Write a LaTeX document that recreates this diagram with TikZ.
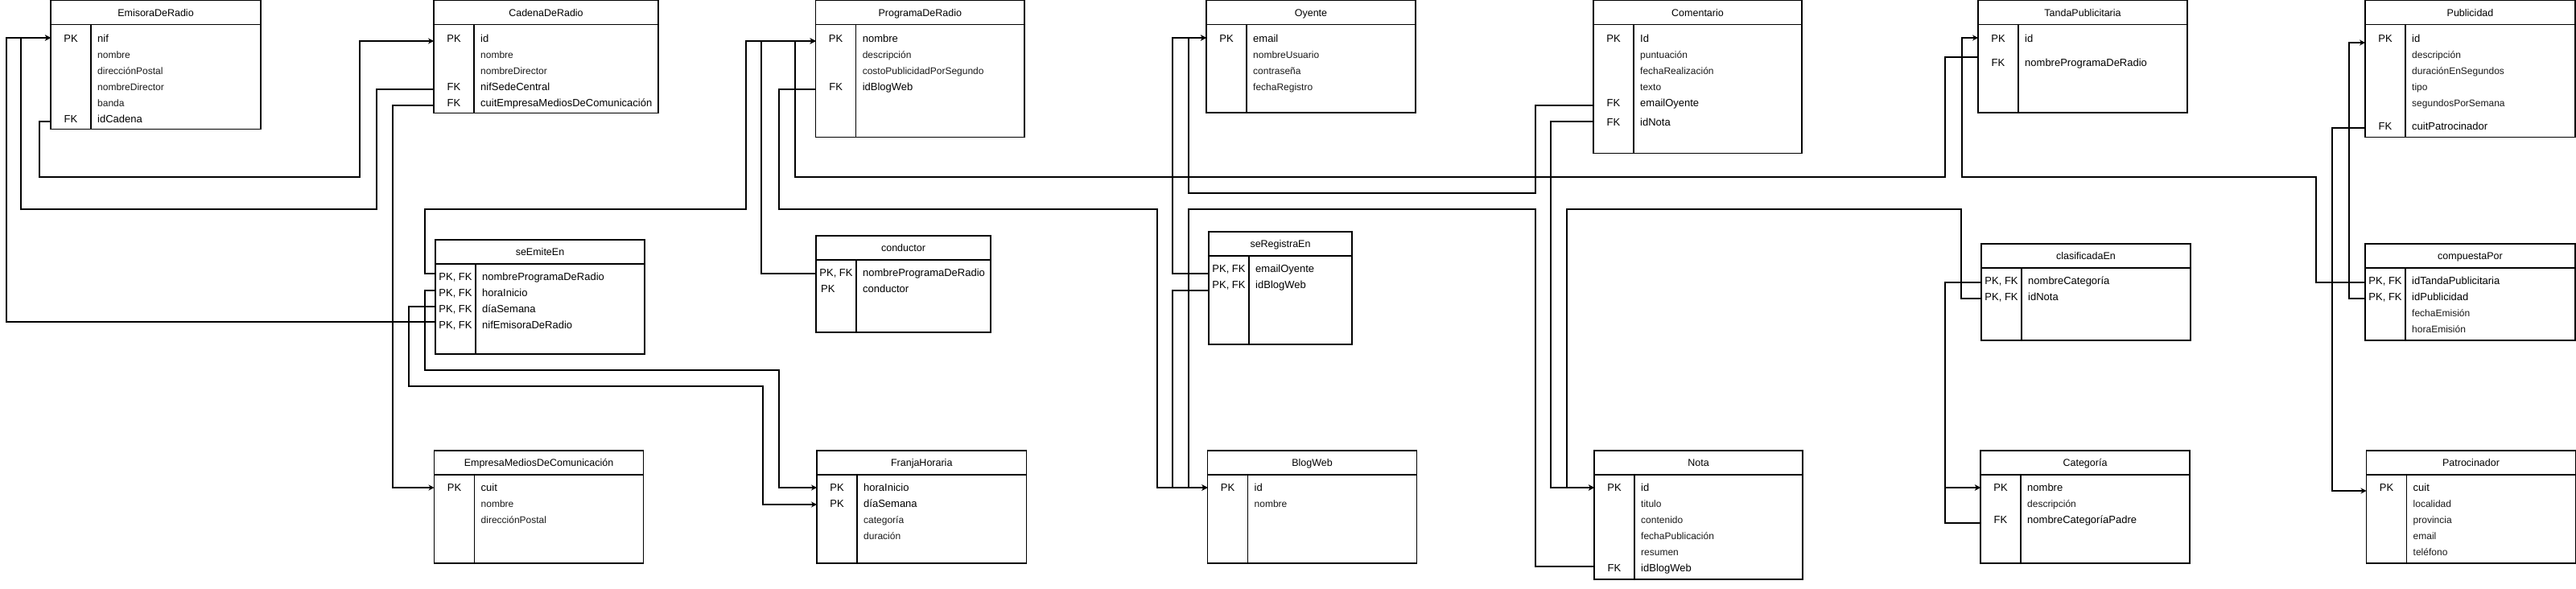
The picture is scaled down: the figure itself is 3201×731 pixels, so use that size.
\documentclass[tikz,border=0pt]{standalone}
\usepackage{fontspec}
\setmainfont{Liberation Sans}
\usepackage{tikz}
\usetikzlibrary{arrows.meta}
\tikzstyle{tbl}=[rectangle,draw=black,line width=1.1pt,inner sep=0pt,outer sep=0pt]
\tikzstyle{tblline}=[line width=1.1pt]
\tikzstyle{ttl}=[font=\fontsize{12.5}{14}\selectfont,inner sep=0pt,text height=9pt,text depth=0pt]
\tikzstyle{keylbl}=[font=\fontsize{13}{15}\selectfont,inner sep=0pt,text height=9pt,text depth=0pt]
\tikzstyle{keyfld}=[keylbl,anchor=west]
\tikzstyle{attfld}=[font=\fontsize{12}{14}\selectfont,text=black!90,inner sep=0pt,
  text height=8.6pt,text depth=0pt,anchor=west]
\tikzstyle{fk}=[line width=1.1pt]
\tikzstyle{ref}=[fk,-{Stealth[length=7pt,width=7pt]}]
% table: name, x, y, width, height, title
\newcommand{\ertable}[6]{%
  \node[tbl,minimum width=#4pt,minimum height=#5pt,anchor=north west] (#1) at (#2,#3) {};
  \draw[tblline] ([yshift=-30pt]#1.north west) -- ([yshift=-30pt]#1.north east);
  \draw[tblline] ([xshift=50pt,yshift=-30pt]#1.north west) -- ([xshift=50pt]#1.south west);
  \node[ttl] (#1-t) at ([yshift=-15pt]#1.north) {#6};
}
% key row: table, name, offset, key, text
\newcommand{\kfield}[5]{%
  \node[keylbl] (#1-#2k) at ([xshift=25pt,yshift=-#3pt]#1.north west) {#4};
  \node[keyfld] (#1-#2) at ([xshift=58pt,yshift=-#3pt]#1.north west) {#5};
}
% plain row: table, name, offset, text
\newcommand{\afield}[4]{%
  \node[attfld] (#1-#2) at ([xshift=58pt,yshift=-#3pt]#1.north west) {#4};
}
\begin{document}
\begin{tikzpicture}[x=1pt,y=-1pt]
    \useasboundingbox (0,0) rectangle (3201,731);
    % top row
    \ertable{emi}{63}{0.7}{261}{160}{EmisoraDeRadio}
    \kfield{emi}{nif}{47}{PK}{nif}
    \afield{emi}{nom}{67}{nombre}
    \afield{emi}{dir}{87}{direcciónPostal}
    \afield{emi}{ndi}{107}{nombreDirector}
    \afield{emi}{ban}{127}{banda}
    \kfield{emi}{idc}{147}{FK}{idCadena}
    \ertable{cad}{539}{0.7}{279}{140}{CadenaDeRadio}
    \kfield{cad}{id}{47}{PK}{id}
    \afield{cad}{nom}{67}{nombre}
    \afield{cad}{ndi}{87}{nombreDirector}
    \kfield{cad}{nif}{107}{FK}{nifSedeCentral}
    \kfield{cad}{cuit}{127}{FK}{cuitEmpresaMediosDeComunicación}
    \ertable{prog}{1013.6}{0.7}{259.4}{170}{ProgramaDeRadio}
    \kfield{prog}{nom}{47}{PK}{nombre}
    \afield{prog}{des}{67}{descripción}
    \afield{prog}{cos}{87}{costoPublicidadPorSegundo}
    \kfield{prog}{blog}{107}{FK}{idBlogWeb}
    \ertable{oye}{1499}{0.7}{260}{139.3}{Oyente}
    \kfield{oye}{mail}{47}{PK}{email}
    \afield{oye}{usr}{67}{nombreUsuario}
    \afield{oye}{pwd}{87}{contraseña}
    \afield{oye}{reg}{107}{fechaRegistro}
    \ertable{com}{1980}{0.7}{259}{190}{Comentario}
    \kfield{com}{id}{47}{PK}{Id}
    \afield{com}{pun}{67}{puntuación}
    \afield{com}{fec}{87}{fechaRealización}
    \afield{com}{txt}{107}{texto}
    \kfield{com}{mail}{127}{FK}{emailOyente}
    \kfield{com}{nota}{151}{FK}{idNota}
    \ertable{tan}{2458}{0.7}{260}{139.3}{TandaPublicitaria}
    \kfield{tan}{id}{47}{PK}{id}
    \kfield{tan}{prog}{77}{FK}{nombreProgramaDeRadio}
    \ertable{pub}{2939}{0.7}{261}{170}{Publicidad}
    \kfield{pub}{id}{47}{PK}{id}
    \afield{pub}{des}{67}{descripción}
    \afield{pub}{dur}{87}{duraciónEnSegundos}
    \afield{pub}{tip}{107}{tipo}
    \afield{pub}{seg}{127}{segundosPorSemana}
    \kfield{pub}{cuit}{156}{FK}{cuitPatrocinador}
    % middle row
    \ertable{see}{541}{298}{260}{142}{seEmiteEn}
    \kfield{see}{prog}{46}{PK, FK}{nombreProgramaDeRadio}
    \kfield{see}{hora}{66}{PK, FK}{horaInicio}
    \kfield{see}{dia}{86}{PK, FK}{díaSemana}
    \kfield{see}{nif}{106}{PK, FK}{nifEmisoraDeRadio}
    \ertable{con}{1014}{293}{217}{120}{conductor}
    \kfield{con}{prog}{46}{PK, FK}{nombreProgramaDeRadio}
    \node[keyfld] (con-condk) at ([xshift=6pt,yshift=-66pt]con.north west) {PK};
    \node[keyfld] (con-cond) at ([xshift=58pt,yshift=-66pt]con.north west) {conductor};
    \ertable{reg}{1502}{288}{178}{140}{seRegistraEn}
    \kfield{reg}{mail}{46}{PK, FK}{emailOyente}
    \kfield{reg}{blog}{66}{PK, FK}{idBlogWeb}
    \ertable{cla}{2462}{303}{260}{120}{clasificadaEn}
    \kfield{cla}{cat}{46}{PK, FK}{nombreCategoría}
    \kfield{cla}{nota}{66}{PK, FK}{idNota}
    \ertable{cmp}{2939}{303}{261}{120}{compuestaPor}
    \kfield{cmp}{tan}{46}{PK, FK}{idTandaPublicitaria}
    \kfield{cmp}{pub}{66}{PK, FK}{idPublicidad}
    \afield{cmp}{fec}{86}{fechaEmisión}
    \afield{cmp}{hor}{106}{horaEmisión}
    % bottom row
    \ertable{emp}{539.5}{560}{260}{140}{EmpresaMediosDeComunicación}
    \kfield{emp}{cuit}{46}{PK}{cuit}
    \afield{emp}{nom}{66}{nombre}
    \afield{emp}{dir}{86}{direcciónPostal}
    \ertable{fra}{1015}{560}{260.5}{140}{FranjaHoraria}
    \kfield{fra}{hora}{46}{PK}{horaInicio}
    \kfield{fra}{dia}{66}{PK}{díaSemana}
    \afield{fra}{cat}{86}{categoría}
    \afield{fra}{dur}{106}{duración}
    \ertable{blg}{1500.5}{560}{260}{140}{BlogWeb}
    \kfield{blg}{id}{46}{PK}{id}
    \afield{blg}{nom}{66}{nombre}
    \ertable{not}{1981}{560}{259}{160}{Nota}
    \kfield{not}{id}{46}{PK}{id}
    \afield{not}{tit}{66}{titulo}
    \afield{not}{con}{86}{contenido}
    \afield{not}{fec}{106}{fechaPublicación}
    \afield{not}{res}{126}{resumen}
    \kfield{not}{blog}{146}{FK}{idBlogWeb}
    \ertable{cat}{2461}{560}{260}{140}{Categoría}
    \kfield{cat}{nom}{46}{PK}{nombre}
    \afield{cat}{des}{66}{descripción}
    \kfield{cat}{pad}{86}{FK}{nombreCategoríaPadre}
    \ertable{pat}{2940.5}{560}{260}{140}{Patrocinador}
    \kfield{pat}{cuit}{46}{PK}{cuit}
    \afield{pat}{loc}{66}{localidad}
    \afield{pat}{pro}{86}{provincia}
    \afield{pat}{mail}{106}{email}
    \afield{pat}{tel}{126}{teléfono}
    % foreign keys
    \draw[ref] (emi.west |- 0,151) -| (49,220) -| (447,51) -- (cad.west |- 0,51);
    \draw[ref] (cad.west |- 0,111) -| (468,260) -| (26,47) -- (emi.west |- 0,47);
    \draw[ref] (cad.west |- 0,131) -| (488,606) -- (emp.west |- 0,606);
    \draw[ref] (see.west |- 0,400) -| (8,47) -- (emi.west |- 0,47);
    \draw[ref] (see.west |- 0,340) -| (528,260) -| (927,51) -- (prog.west |- 0,51);
    \draw[ref] (see.west |- 0,361) -| (528,460) -| (968,606) -- (fra.west |- 0,606);
    \draw[ref] (see.west |- 0,381) -| (508,480) -| (948,627) -- (fra.west |- 0,627);
    \draw[ref] (con.west |- 0,340) -| (946,51) -- (prog.west |- 0,51);
    \draw[ref] (prog.west |- 0,111) -| (968,260) -| (1438,606) -- (blg.west |- 0,606);
    \draw[ref] (tan.west |- 0,71) -| (2417,220) -| (988,51) -- (prog.west |- 0,51);
    \draw[ref] (reg.west |- 0,340) -| (1457,47) -- (oye.west |- 0,47);
    \draw[ref] (reg.west |- 0,361) -| (1457,606) -- (blg.west |- 0,606);
    \draw[ref] (com.west |- 0,131) -| (1908,240) -| (1477,47) -- (oye.west |- 0,47);
    \draw[ref] (not.west |- 0,704) -| (1908,260) -| (1477,606) -- (blg.west |- 0,606);
    \draw[ref] (com.west |- 0,151) -| (1927,606) -- (not.west |- 0,606);
    \draw[ref] (cla.west |- 0,371) -| (2437,260) -| (1947,606) -- (not.west |- 0,606);
    \draw[ref] (cla.west |- 0,351) -| (2417,606) -- (cat.west |- 0,606);
    \draw[ref] (cat.west |- 0,650) -| (2417,606) -- (cat.west |- 0,606);
    \draw[ref] (cmp.west |- 0,351) -| (2878,220) -| (2438,47) -- (tan.west |- 0,47);
    \draw[ref] (cmp.west |- 0,371) -| (2919,53) -- (pub.west |- 0,53);
    \draw[ref] (pub.west |- 0,159) -| (2898,610) -- (pat.west |- 0,610);
\end{tikzpicture}
\end{document}
